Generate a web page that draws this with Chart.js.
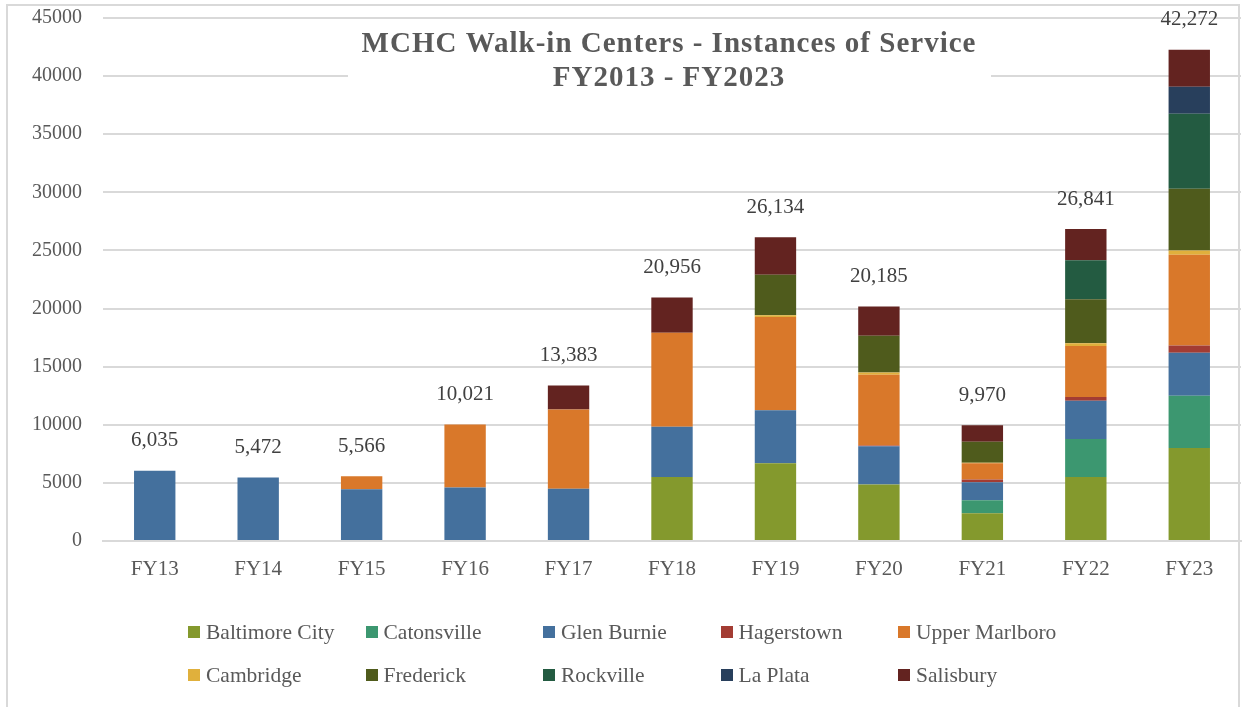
<!DOCTYPE html>
<html>
<head>
<meta charset="utf-8">
<script src="https://cdn.jsdelivr.net/npm/chart.js@4/dist/chart.umd.min.js"></script>
<style>
  body { margin: 0; background: #fff; }
  #wrap { position: relative; width: 1244px; height: 707px; overflow: hidden; }
  #frame { position: absolute; left: 6px; top: 4px; width: 1234px; height: 720px; border: 2px solid #d9d9d9; box-sizing: border-box; }
  canvas { position: absolute; left: 0; top: 0; }
  #legend { position: absolute; left: 188px; top: 618px; display: grid; grid-template-columns: repeat(5, 177.5px); row-gap: 15px; font-family: "Liberation Serif", serif; font-size: 21.5px; color: #595959; }
  #legend div { display: flex; align-items: center; height: 28px; white-space: nowrap; }
  #legend span.box { width: 12px; height: 12px; margin-right: 6px; display: inline-block; }
</style>
</head>
<body>
<div id="wrap">
  <div id="frame"></div>
  <canvas id="chart" width="1244" height="707"></canvas>
  <div id="legend"></div>
</div>
<script>
let categories = ["FY13","FY14","FY15","FY16","FY17","FY18","FY19","FY20","FY21","FY22","FY23"];
let totals = [6035,5472,5566,10021,13383,20956,26134,20185,9970,26841,42272];

let baltimoreCity = [0,0,0,0,0,5500,6700,4860,2390,5500,8000];
let catonsville   = [0,0,0,0,0,0,0,0,1120,3280,4490];
let glenBurnie    = [6035,5472,4450,4600,4500,4330,4550,3300,1550,3280,3710];
let hagerstown    = [0,0,0,0,0,0,0,60,230,320,630];
let upperMarlboro = [0,0,1116,5421,6820,8080,8030,6080,1410,4400,7800];
let cambridge     = [0,0,0,0,0,0,140,200,30,230,370];
let frederick     = [0,0,0,0,0,0,3480,3170,1800,3800,5300];
let rockville     = [0,0,0,0,0,0,0,0,0,3340,6470];
let laPlata       = [0,0,0,0,0,0,0,0,0,0,2310];
let salisbury     = [0,0,0,0,2063,3046,3234,2515,1440,2691,3192];

let yTicks = [0,5000,10000,15000,20000,25000,30000,35000,40000,45000];

let series = [
  { label: "Baltimore City", data: baltimoreCity, color: "#84992d" },
  { label: "Catonsville",    data: catonsville,   color: "#3c9770" },
  { label: "Glen Burnie",    data: glenBurnie,    color: "#44709d" },
  { label: "Hagerstown",     data: hagerstown,    color: "#a33c33" },
  { label: "Upper Marlboro", data: upperMarlboro, color: "#d9782a" },
  { label: "Cambridge",      data: cambridge,     color: "#e0b03c" },
  { label: "Frederick",      data: frederick,     color: "#4f5b1c" },
  { label: "Rockville",      data: rockville,     color: "#235b41" },
  { label: "La Plata",       data: laPlata,       color: "#283f5c" },
  { label: "Salisbury",      data: salisbury,     color: "#632320" }
];

let serif = "'Liberation Serif', 'DejaVu Serif', serif";

// totals above each stack
let totalLabels = {
  id: "totalLabels",
  afterDatasetsDraw(chart) {
    let ctx = chart.ctx;
    let x = chart.scales.x, y = chart.scales.y;
    ctx.save();
    ctx.font = "21px " + serif;
    ctx.fillStyle = "#404040";
    ctx.textAlign = "center";
    ctx.textBaseline = "middle";
    totals.forEach(function(t, i) {
      ctx.fillText(t.toLocaleString("en-US"), x.getPixelForValue(i), y.getPixelForValue(t) - 30);
    });
    ctx.restore();
  }
};

// title box sits over the plot like in Excel
let titleBox = {
  id: "titleBox",
  afterDraw(chart) {
    let ctx = chart.ctx;
    ctx.save();
    ctx.fillStyle = "#fff";
    ctx.fillRect(348, 24, 643, 72);
    ctx.font = "bold 29px " + serif;
    ctx.letterSpacing = "1px";
    ctx.fillStyle = "#595959";
    ctx.textAlign = "center";
    ctx.textBaseline = "middle";
    ctx.fillText("MCHC Walk-in Centers - Instances of Service", 669, 45);
    ctx.fillText("FY2013 - FY2023", 669, 79);
    ctx.restore();
  }
};

let ctx = document.getElementById("chart");
let chart = new Chart(ctx,
{
  type: "bar",
  data: {
    labels: categories,
    datasets: series.map(function(s) {
      return { label: s.label, data: s.data, backgroundColor: s.color, borderWidth: 0, barPercentage: 0.4, categoryPercentage: 1 };
    })
  },
  options: {
    responsive: false,
    animation: false,
    devicePixelRatio: 1,
    layout: { padding: { top: 18, right: 3, bottom: 126, left: 0 } },
    plugins: { legend: { display: false }, tooltip: { enabled: false } },
    scales: {
      x: {
        stacked: true,
        grid: { display: false, drawTicks: false },
        border: { color: "#d9d9d9", width: 2 },
        ticks: { color: "#595959", font: { family: serif, size: 21 }, padding: 16 },
        afterFit: function(scale) { scale.height = 40; scale.paddingLeft = 0; scale.paddingRight = 0; }
      },
      y: {
        stacked: true,
        min: 0,
        max: 45000,
        afterBuildTicks: function(scale) { scale.ticks = yTicks.map(function(v) { return { value: v }; }); },
        grid: { color: "#d9d9d9", lineWidth: 2, drawTicks: false },
        border: { display: false },
        ticks: { color: "#595959", font: { family: serif, size: 20 }, padding: 21, callback: function(v) { return String(v); } },
        afterFit: function(scale) { scale.width = 103; scale.paddingTop = 0; scale.paddingBottom = 0; }
      }
    }
  },
  plugins: [totalLabels, titleBox]
});

let legendEl = document.getElementById("legend");
series.forEach(function(s) {
  let item = document.createElement("div");
  let box = document.createElement("span");
  box.className = "box";
  box.style.background = s.color;
  item.appendChild(box);
  item.appendChild(document.createTextNode(s.label));
  legendEl.appendChild(item);
});
</script>
</body>
</html>
